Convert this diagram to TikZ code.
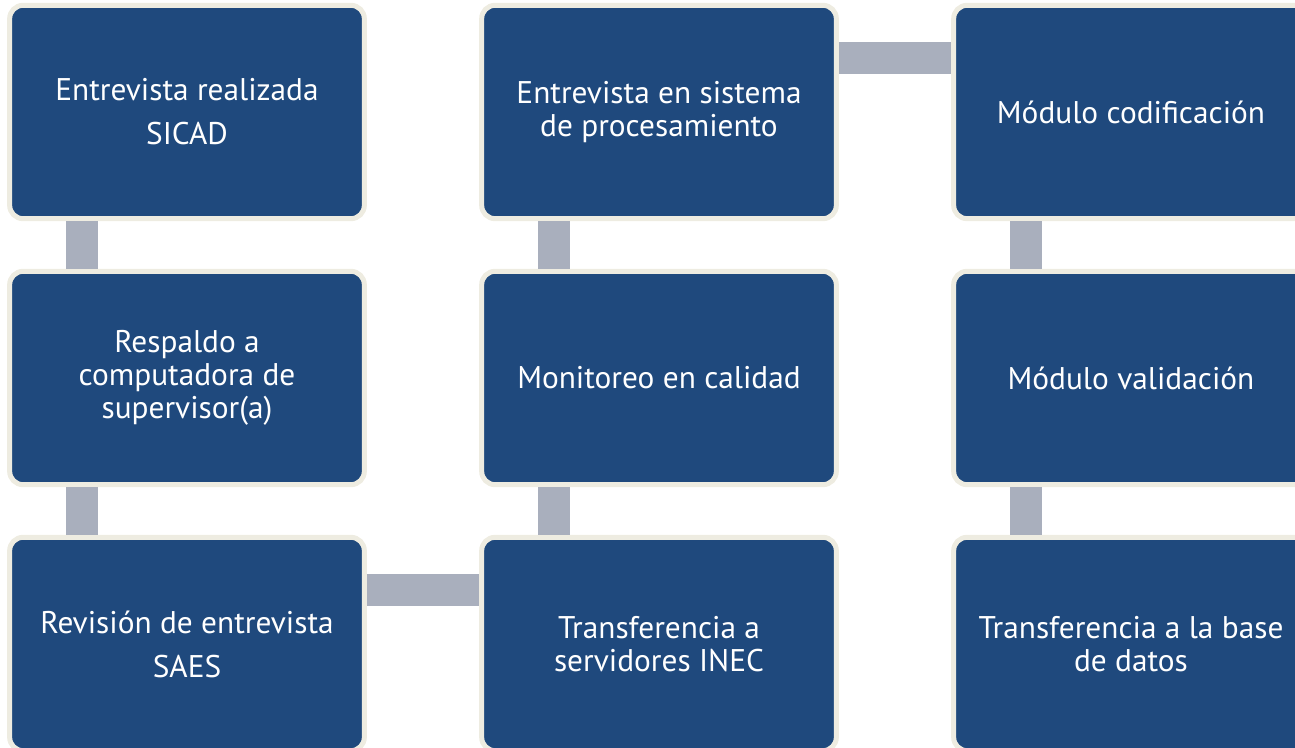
\documentclass[tikz,border=0pt]{standalone}
\usepackage{fontspec}
\setmainfont{PT Sans}
\usepackage{tikz}
\usetikzlibrary{calc}
\definecolor{boxblue}{HTML}{1F497D}
\definecolor{boxrim}{HTML}{EEECE1}
\definecolor{bargrey}{HTML}{A9AFBD}
\tikzset{
	stage/.style={draw=boxrim, fill=boxblue, line width=3.75pt, rounded corners=10pt,
		minimum width=266pt, minimum height=160pt, text=white, align=center,
		font=\fontsize{23.5}{24.5}\selectfont},
	bar/.style={draw=bargrey, line width=24pt}
}

\begin{document}
\begin{tikzpicture}[x=0.75pt, y=-0.75pt]
		%%%%% START %%%%%
		\useasboundingbox (0, 0) rectangle (1295, 748);
		
		\node[stage] (entrevista) at (187, 112) {Entrevista realizada\\[8.5pt]SICAD};
		\node[stage] (respaldo) at (187, 378) {Respaldo a\\computadora de\\supervisor(a)};
		\node[stage] (revision) at (187, 644) {Revisión de entrevista\\[8.5pt]SAES};
		
		\node[stage] (transferencia) at (659, 644) {Transferencia a\\servidores INEC};
		\node[stage] (monitoreo) at (659, 378) {Monitoreo en calidad};
		\node[stage] (sistema) at (659, 112) {Entrevista en sistema\\de procesamiento};
		
		\node[stage] (codificacion) at (1131, 112) {Módulo codificación};
		\node[stage] (validacion) at (1131, 378) {Módulo validación};
		\node[stage] (basedatos) at (1131, 644) {Transferencia a la base\\de datos};
		
		% connectors
		\draw[bar] ($(entrevista.south west)+(75, 0)$) -- ($(respaldo.north west)+(75, 0)$);
		\draw[bar] ($(respaldo.south west)+(75, 0)$) -- ($(revision.north west)+(75, 0)$);
		\draw[bar] ($(revision.north east)+(0, 55)$) -- ($(transferencia.north west)+(0, 55)$);
		\draw[bar] ($(transferencia.north west)+(75, 0)$) -- ($(monitoreo.south west)+(75, 0)$);
		\draw[bar] ($(monitoreo.north west)+(75, 0)$) -- ($(sistema.south west)+(75, 0)$);
		\draw[bar] ($(sistema.north east)+(0, 55)$) -- ($(codificacion.north west)+(0, 55)$);
		\draw[bar] ($(codificacion.south west)+(75, 0)$) -- ($(validacion.north west)+(75, 0)$);
		\draw[bar] ($(validacion.south west)+(75, 0)$) -- ($(basedatos.north west)+(75, 0)$);
		
		%%%%% END %%%%%
\end{tikzpicture}
\end{document}
